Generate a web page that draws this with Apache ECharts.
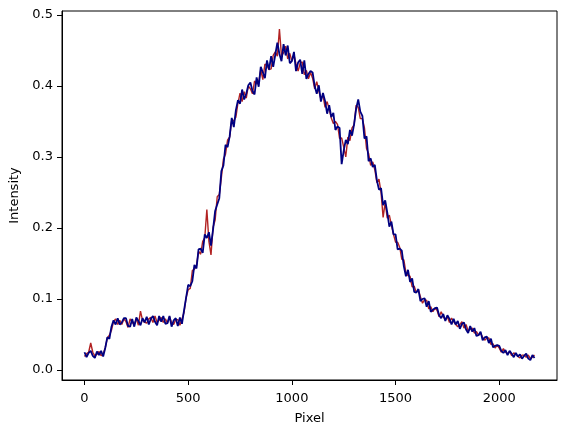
<!DOCTYPE html>
<html>
<head>
<meta charset="utf-8">
<script src="https://cdn.jsdelivr.net/npm/echarts@6/dist/echarts.min.js"></script>
<style>
  html, body { margin: 0; padding: 0; background: #fff; }
  #chart { width: 567px; height: 434px; }
</style>
</head>
<body>
<div id="chart"></div>
<script>
// pixel step between samples (read every 10 pixels off the plot)
const pixelStep = 10

// red trace (drawn underneath)
const redIntensity = [
  0.019, 0.023, 0.025, 0.038, 0.025, 0.020, 0.022, 0.026, 0.020, 0.023,
  0.031, 0.045, 0.049, 0.056, 0.068, 0.072, 0.064, 0.070, 0.064, 0.072,
  0.068, 0.060, 0.072, 0.067, 0.064, 0.072, 0.063, 0.083, 0.070, 0.067,
  0.066, 0.072, 0.074, 0.067, 0.076, 0.067, 0.070, 0.074, 0.067, 0.072,
  0.066, 0.075, 0.067, 0.064, 0.071, 0.071, 0.063, 0.072, 0.081, 0.102,
  0.113, 0.115, 0.140, 0.142, 0.147, 0.167, 0.163, 0.181, 0.186, 0.226,
  0.181, 0.162, 0.201, 0.211, 0.244, 0.247, 0.271, 0.297, 0.304, 0.324,
  0.328, 0.352, 0.351, 0.356, 0.376, 0.390, 0.378, 0.392, 0.383, 0.400,
  0.396, 0.389, 0.407, 0.403, 0.405, 0.423, 0.409, 0.431, 0.429, 0.423,
  0.424, 0.443, 0.448, 0.442, 0.480, 0.442, 0.447, 0.456, 0.438, 0.446,
  0.435, 0.444, 0.431, 0.421, 0.432, 0.434, 0.416, 0.422, 0.410, 0.419,
  0.411, 0.396, 0.406, 0.393, 0.382, 0.387, 0.370, 0.378, 0.367, 0.355,
  0.347, 0.350, 0.346, 0.326, 0.327, 0.314, 0.300, 0.328, 0.323, 0.341,
  0.345, 0.373, 0.370, 0.354, 0.354, 0.341, 0.312, 0.305, 0.288, 0.293,
  0.282, 0.264, 0.269, 0.250, 0.215, 0.236, 0.214, 0.218, 0.204, 0.191,
  0.180, 0.180, 0.173, 0.156, 0.155, 0.137, 0.133, 0.132, 0.117, 0.118,
  0.109, 0.113, 0.103, 0.094, 0.099, 0.098, 0.086, 0.089, 0.082, 0.087,
  0.084, 0.075, 0.082, 0.075, 0.071, 0.075, 0.067, 0.073, 0.068, 0.064,
  0.061, 0.064, 0.068, 0.059, 0.064, 0.055, 0.057, 0.059, 0.052, 0.054,
  0.049, 0.052, 0.046, 0.042, 0.045, 0.045, 0.036, 0.037, 0.031, 0.035,
  0.031, 0.025, 0.030, 0.025, 0.023, 0.026, 0.020, 0.024, 0.022, 0.019,
  0.017, 0.021, 0.021, 0.018, 0.021, 0.016, 0.018, 0.021,
]

// navy trace (drawn on top)
const blueIntensity = [
  0.025, 0.018, 0.024, 0.027, 0.020, 0.017, 0.026, 0.021, 0.027, 0.019,
  0.031, 0.046, 0.044, 0.061, 0.070, 0.064, 0.073, 0.064, 0.067, 0.073,
  0.073, 0.062, 0.061, 0.072, 0.061, 0.074, 0.069, 0.063, 0.073, 0.067,
  0.075, 0.064, 0.072, 0.076, 0.068, 0.063, 0.076, 0.068, 0.076, 0.065,
  0.066, 0.076, 0.061, 0.070, 0.073, 0.062, 0.074, 0.065, 0.084, 0.102,
  0.120, 0.118, 0.125, 0.148, 0.143, 0.170, 0.171, 0.165, 0.191, 0.186,
  0.194, 0.175, 0.198, 0.224, 0.233, 0.242, 0.280, 0.288, 0.317, 0.314,
  0.329, 0.355, 0.342, 0.366, 0.380, 0.375, 0.395, 0.381, 0.389, 0.401,
  0.405, 0.393, 0.388, 0.412, 0.399, 0.427, 0.419, 0.411, 0.436, 0.423,
  0.442, 0.427, 0.444, 0.461, 0.445, 0.435, 0.459, 0.443, 0.457, 0.432,
  0.435, 0.448, 0.421, 0.433, 0.437, 0.417, 0.436, 0.410, 0.417, 0.421,
  0.419, 0.400, 0.389, 0.401, 0.378, 0.390, 0.379, 0.361, 0.373, 0.356,
  0.362, 0.338, 0.343, 0.341, 0.290, 0.309, 0.324, 0.318, 0.338, 0.330,
  0.346, 0.368, 0.381, 0.364, 0.358, 0.326, 0.329, 0.294, 0.298, 0.286,
  0.289, 0.267, 0.254, 0.256, 0.232, 0.239, 0.222, 0.202, 0.209, 0.191,
  0.191, 0.170, 0.171, 0.168, 0.146, 0.132, 0.141, 0.124, 0.129, 0.110,
  0.109, 0.114, 0.097, 0.100, 0.101, 0.089, 0.097, 0.082, 0.085, 0.087,
  0.088, 0.077, 0.073, 0.079, 0.069, 0.077, 0.072, 0.064, 0.072, 0.064,
  0.069, 0.058, 0.065, 0.067, 0.057, 0.052, 0.062, 0.054, 0.059, 0.048,
  0.049, 0.054, 0.042, 0.046, 0.047, 0.038, 0.044, 0.032, 0.034, 0.035,
  0.034, 0.027, 0.024, 0.028, 0.021, 0.027, 0.023, 0.018, 0.024, 0.019,
  0.022, 0.016, 0.020, 0.023, 0.016, 0.014, 0.021, 0.017,
]

const xTicks = [0, 500, 1000, 1500, 2000]
const yTicks = [0.0, 0.1, 0.2, 0.3, 0.4, 0.5]

const toPoints = (vals) => vals.map((v, i) => [i * pixelStep, v])

const font = 'DejaVu Sans'
const chart = echarts.init(document.getElementById('chart'), null, { renderer: 'canvas' })

chart.setOption({
  animation: false,
  backgroundColor: '#fff',
  textStyle: { fontFamily: font },
  grid: {
    left: 62, right: 10, top: 11, bottom: 54,
    containLabel: false,
    outerBoundsMode: 'none',
    show: true, borderColor: '#000', borderWidth: 1,
  },
  xAxis: {
    type: 'value',
    min: -108.5,
    max: 2278.5,
    name: 'Pixel',
    nameLocation: 'middle',
    nameGap: 32,
    nameTextStyle: { color: '#000', fontSize: 13, fontFamily: font },
    axisLine: { show: true, onZero: false, lineStyle: { color: '#000', width: 1 } },
    axisTick: { show: true, length: 5, customValues: xTicks, lineStyle: { color: '#000' } },
    axisLabel: { color: '#000', fontSize: 13, margin: 12, customValues: xTicks, formatter: (v) => String(v) },
    splitLine: { show: false },
  },
  yAxis: {
    type: 'value',
    min: -0.0141,
    max: 0.5056,
    name: 'Intensity',
    nameLocation: 'middle',
    nameGap: 38,
    nameRotate: 90,
    nameTextStyle: { color: '#000', fontSize: 13, fontFamily: font },
    axisLine: { show: true, onZero: false, lineStyle: { color: '#000', width: 1 } },
    axisTick: { show: true, length: 5, customValues: yTicks, lineStyle: { color: '#000' } },
    axisLabel: { color: '#000', fontSize: 13, margin: 9, customValues: yTicks, formatter: (v) => v.toFixed(1) },
    splitLine: { show: false },
  },
  series: [
    {
      name: 'red',
      type: 'line',
      data: toPoints(redIntensity),
      showSymbol: false,
      lineStyle: { color: '#b22222', width: 1.4 },
      z: 2,
    },
    {
      name: 'navy',
      type: 'line',
      data: toPoints(blueIntensity),
      showSymbol: false,
      lineStyle: { color: '#000080', width: 1.8 },
      z: 3,
    },
  ],
})
</script>
</body>
</html>
